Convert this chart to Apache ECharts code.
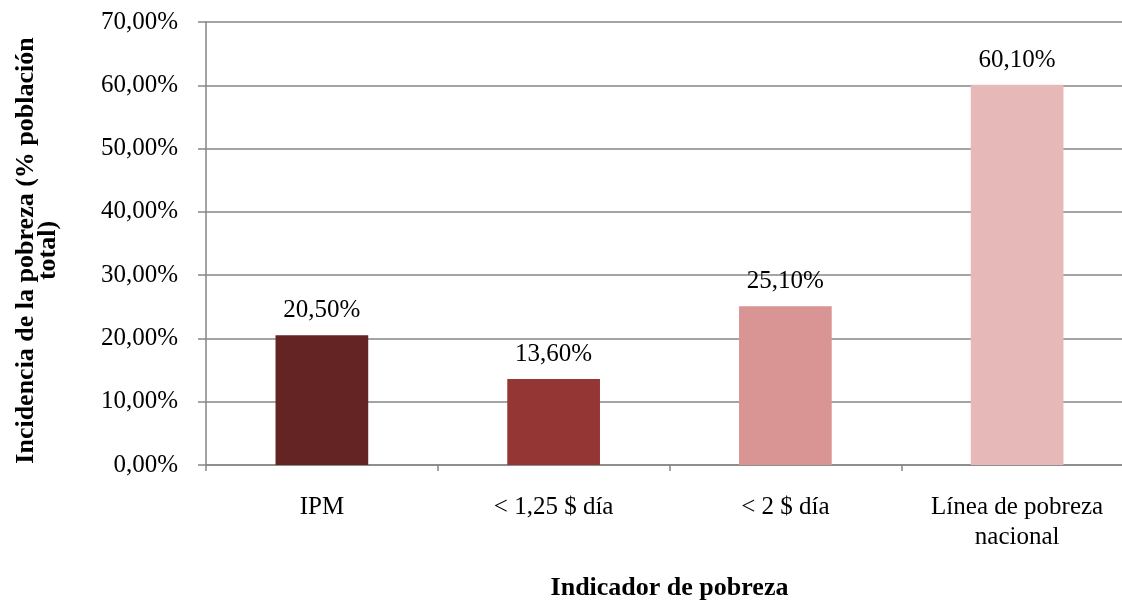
<!DOCTYPE html>
<html>
<head>
<meta charset="utf-8">
<script src="https://cdn.jsdelivr.net/npm/echarts@6/dist/echarts.min.js"></script>
<style>
html,body{margin:0;padding:0;background:#fff;}
#chart{width:1122px;height:600px;}
</style>
</head>
<body>
<div id="chart"></div>
<script>
const categories = ['IPM', '< 1,25 $ día', '< 2 $ día', 'Línea de pobreza\nnacional'];
const values = [20.5, 13.6, 25.1, 60.1];
const barColors = ['#632423', '#943634', '#D99594', '#E6B8B7'];
const yTicks = { min: 0, max: 70, interval: 10 };

const fmt = v => v.toFixed(2).replace('.', ',') + '%';
const font = '"Liberation Serif", "Times New Roman", serif';
const gray = '#868686';

const chart = echarts.init(document.getElementById('chart'), null, { renderer: 'canvas' });
chart.setOption({
  backgroundColor: '#ffffff',
  animation: false,
  textStyle: { fontFamily: font },
  grid: { left: 206, top: 22, right: -11, bottom: 135, containLabel: false, outerBoundsMode: 'none' },
  xAxis: {
    type: 'category',
    data: categories,
    name: 'Indicador de pobreza',
    nameLocation: 'middle',
    nameGap: 110,
    nameTextStyle: { fontFamily: font, fontSize: 26, fontWeight: 'bold', color: '#000' },
    axisLine: { lineStyle: { color: gray, width: 1.5 } },
    axisTick: { show: true, length: 6, lineStyle: { color: gray, width: 1.5 } },
    axisLabel: { fontFamily: font, fontSize: 25, color: '#000', margin: 27, lineHeight: 30, interval: 0 },
    splitLine: { show: false }
  },
  yAxis: {
    type: 'value',
    min: yTicks.min,
    max: yTicks.max,
    interval: yTicks.interval,
    name: 'Incidencia de la pobreza (% población\ntotal)',
    nameLocation: 'middle',
    nameGap: 147,
    nameRotate: 90,
    nameTextStyle: { fontFamily: font, fontSize: 26, fontWeight: 'bold', color: '#000', lineHeight: 22, padding: [0, 14, 0, 0] },
    axisLine: { show: true, lineStyle: { color: gray, width: 1.5 } },
    axisTick: { show: true, length: 8, lineStyle: { color: gray, width: 1.5 } },
    axisLabel: { fontFamily: font, fontSize: 25, color: '#000', margin: 28, formatter: fmt },
    splitLine: { show: true, lineStyle: { color: gray, width: 1.5 } }
  },
  series: [{
    type: 'bar',
    barWidth: '40%',
    data: values.map((v, i) => ({ value: v, itemStyle: { color: barColors[i] } })),
    label: {
      show: true,
      position: 'top',
      distance: 12,
      fontFamily: font,
      fontSize: 25,
      color: '#000',
      formatter: p => fmt(p.value)
    }
  }]
});
</script>
</body>
</html>
